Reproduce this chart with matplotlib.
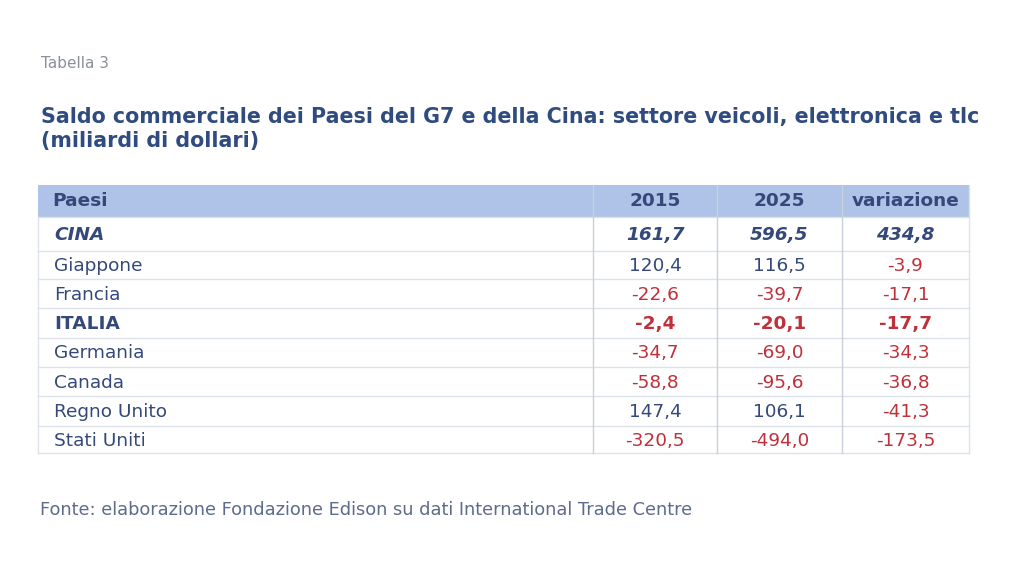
import matplotlib
matplotlib.use('Agg')
import matplotlib.pyplot as plt
from matplotlib.patches import Rectangle

# dati della tabella
paesi = ['CINA', 'Giappone', 'Francia', 'ITALIA', 'Germania', 'Canada', 'Regno Unito', 'Stati Uniti']
valori_2015 = [161.7, 120.4, -22.6, -2.4, -34.7, -58.8, 147.4, -320.5]
valori_2025 = [596.5, 116.5, -39.7, -20.1, -69.0, -95.6, 106.1, -494.0]
variazione = [434.8, -3.9, -17.1, -17.7, -34.3, -36.8, -41.3, -173.5]
intestazioni = ['Paesi', '2015', '2025', 'variazione']

titolo = 'Saldo commerciale dei Paesi del G7 e della Cina: settore veicoli, elettronica e tlc\n(miliardi di dollari)'
etichetta = 'Tabella 3'
fonte = 'Fonte: elaborazione Fondazione Edison su dati International Trade Centre'

navy = '#34497a'
rosso = '#c0303a'
header_bg = '#aec3e7'
griglia = '#dde1e8'
sep = '#c9cfdb'

plt.rcParams['font.family'] = ['DejaVu Sans']

fig = plt.figure(figsize=(10.24, 5.76), dpi=100)
ax = fig.add_axes([0, 0, 1, 1])
ax.set_xlim(0, 1024)
ax.set_ylim(576, 0)
ax.axis('off')

ax.text(41, 63, etichetta, fontsize=11, color='#8a8f98', va='center')
ax.text(41, 129, titolo, fontsize=14.9, color='#2f4b80', fontweight='bold', va='center', linespacing=1.2)
ax.text(40, 510, fonte, fontsize=12.8, color='#5d6b8c', va='center')

# geometria tabella
x0, x1 = 38, 969
col_x = [593, 717, 842]
top, hdr_bot = 185, 217
righe = [217, 251, 279, 308, 338, 367, 396, 426, 453]

ax.add_patch(Rectangle((x0, top), x1 - x0, hdr_bot - top, facecolor=header_bg, edgecolor='none'))
for y in righe:
    ax.plot([x0, x1], [y, y], color=griglia, lw=1)
ax.plot([x0, x0], [hdr_bot, righe[-1]], color=griglia, lw=1)
ax.plot([x1, x1], [top, righe[-1]], color=griglia, lw=1)
for x in col_x:
    ax.plot([x, x], [top, righe[-1]], color=sep, lw=1)

centri = [(col_x[0] + col_x[1]) / 2, (col_x[1] + col_x[2]) / 2, (col_x[2] + x1) / 2]

ax.text(52, 201, intestazioni[0], fontsize=13.3, fontweight='bold', color=navy, va='center')
for c, h in zip(centri, intestazioni[1:]):
    ax.text(c, 201, h, fontsize=13.3, fontweight='bold', color=navy, va='center', ha='center')


def fmt(v):
    return f'{v:.1f}'.replace('.', ',')


for i, p in enumerate(paesi):
    yc = (righe[i] + righe[i + 1]) / 2 + 1
    peso = 'bold' if p in ('CINA', 'ITALIA') else 'normal'
    stile = 'italic' if p == 'CINA' else 'normal'
    ax.text(54, yc, p, fontsize=13.3, color=navy, va='center', fontweight=peso, fontstyle=stile)
    for c, serie in zip(centri, [valori_2015, valori_2025, variazione]):
        v = serie[i]
        ax.text(c, yc, fmt(v), fontsize=13.3, ha='center', va='center',
                color=navy if v >= 0 else rosso, fontweight=peso, fontstyle=stile)

fig.savefig('out.png', dpi=100, facecolor='white')
